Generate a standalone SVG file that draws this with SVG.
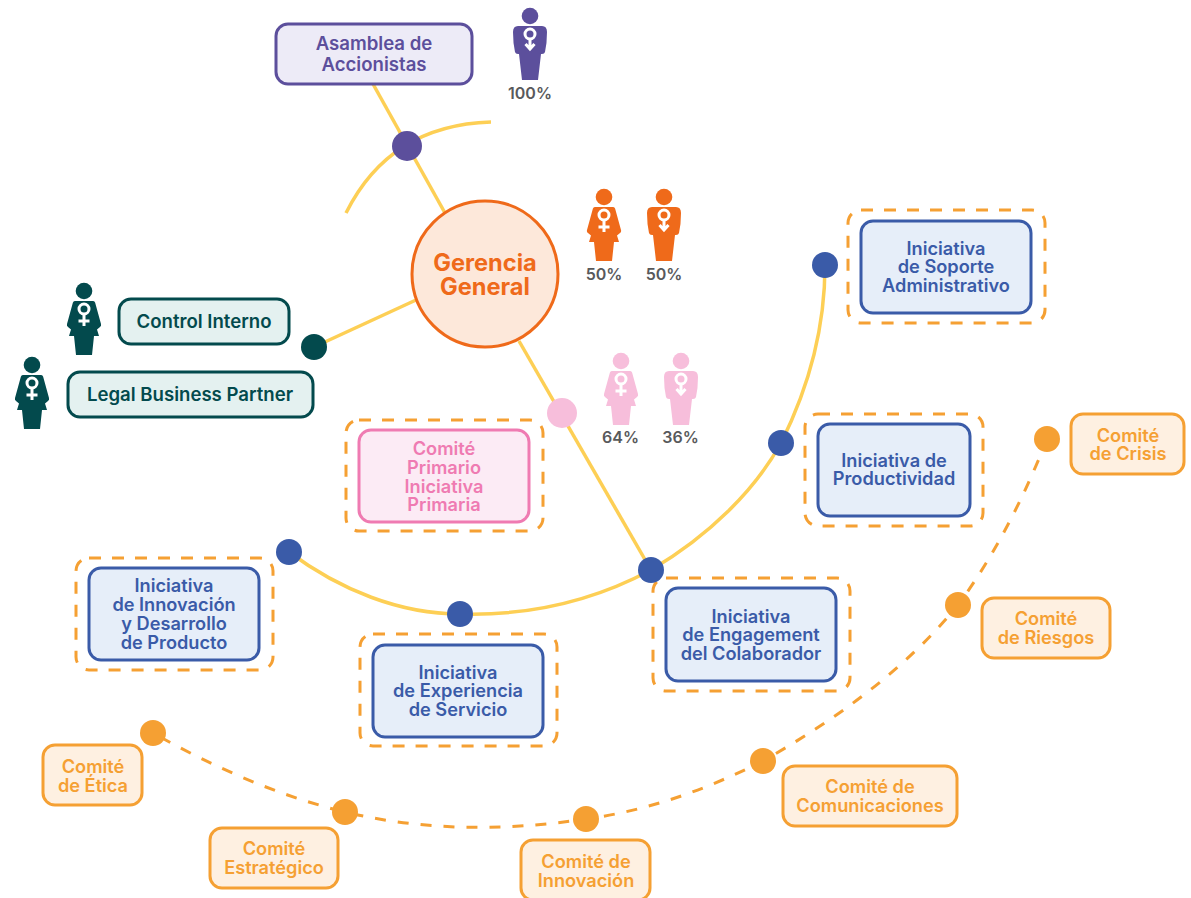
<svg xmlns="http://www.w3.org/2000/svg" width="1191" height="898" viewBox="0 0 1191 898">
<style>
text{font-family:Inter,"Liberation Sans",sans-serif;font-weight:600;text-anchor:middle}
.conn{fill:none;stroke:#fdcf55;stroke-width:3.500}
.dash{fill:none;stroke:#f5a033;stroke-width:3;stroke-dasharray:11 12}
.dbox{fill:none;stroke:#f5a033;stroke-width:3;stroke-dasharray:12 11}
.blue rect.b{fill:#e6eef9;stroke:#3a5ba8;stroke-width:3}
.blue text{fill:#3a5ba8;font-size:18.200px}
.org rect{fill:#fef0e1;stroke:#f5a033;stroke-width:3}
.org text{fill:#f5a033;font-size:18.200px}
.teal rect{fill:#e4f1f0;stroke:#034a4d;stroke-width:3}
.teal text{fill:#034a4d;font-size:18.600px}
.pct{fill:#58595b;font-size:16px}
.sym{fill:none;stroke:#fff;stroke-width:3}
</style>
<defs>
<g id="female">
<circle cx="0" cy="0" r="8.300"/>
<path d="M-9,10H9Q11,10 11.500,13L17,33Q17.500,35 16,36L13,38.500L15,45H10L8,64H-8L-10,45H-15L-13,38.500L-16,36Q-17.500,35 -17,33L-11.500,13Q-11,10 -9,10Z"/>
<g class="sym"><circle cx="0" cy="18" r="5"/><path d="M0,23.500V35M-5.500,30H5.500"/></g>
</g>
<g id="male">
<circle cx="0" cy="0" r="8.300"/>
<path d="M-12,10H12Q17,10 17,16Q17,27 15,36Q14.500,38 12,38H11L8,64H-8L-11,38H-12Q-14.500,38 -15,36Q-17,27 -17,16Q-17,10 -12,10Z"/>
<g class="sym"><circle cx="0" cy="18" r="5"/><path d="M0,23.500V33M-4.500,28L0,33L4.500,28"/></g>
</g>
</defs>
<g id="connectors">
<path class="conn" d="M373,84L445,213"/>
<path class="conn" d="M346,213Q390,125 491,122"/>
<path class="conn" d="M416,300L314,347"/>
<path class="conn" d="M519,341L651,570"/>
<path class="conn" d="M289,552C340,590 400,614 460,614C530,616 595,600 651,570C710,535 755,490 781,443C810,385 825,325 825,265"/>
<path class="dash" d="M1047,439C1025,495 995,555 958,605C905,670 835,720 763,761C705,790 650,810 586,819C500,832 420,830 345,812C275,795 210,765 153,733"/>
</g>
<g id="asamblea">
<rect x="276" y="24" width="196" height="60" rx="12" fill="#edebf7" stroke="#5c4f9c" stroke-width="3"/>
<text fill="#5c4f9c" font-size="18.600" x="374" y="50">Asamblea de</text>
<text fill="#5c4f9c" font-size="18.600" x="374" y="71">Accionistas</text>
</g>
<g id="fig-asamblea" fill="#5c4f9c"><use href="#male" x="530" y="16"/><text class="pct" x="530" y="99">100%</text></g>
<g id="gerencia">
<circle cx="485" cy="274" r="73" fill="#fde8da" stroke="#ef6a1a" stroke-width="3"/>
<text fill="#ef6a1a" font-size="23.600" style="font-weight:700" x="485" y="271">Gerencia</text>
<text fill="#ef6a1a" font-size="23.600" style="font-weight:700" x="485" y="295">General</text>
</g>
<g id="fig-gerencia" fill="#ef6a1a"><use href="#female" x="604" y="197"/><use href="#male" x="664" y="197"/><text class="pct" x="604" y="280">50%</text><text class="pct" x="664" y="280">50%</text></g>
<g id="fig-comite" fill="#f7bedb"><use href="#female" x="621" y="361"/><use href="#male" x="681" y="361"/><text class="pct" x="620.500" y="443">64%</text><text class="pct" x="680.500" y="443">36%</text></g>
<g id="control" class="teal"><rect x="119" y="299" width="170" height="45" rx="12"/><text x="204" y="328">Control Interno</text></g>
<g id="legal" class="teal"><rect x="68" y="372" width="245" height="45" rx="12"/><text x="190" y="401">Legal Business Partner</text></g>
<g id="fig-legal" fill="#034a4d"><use href="#female" x="84" y="291"/><use href="#female" x="32" y="365"/></g>
<g id="comite-primario">
<rect class="dbox" x="346" y="420" width="197" height="111" rx="13"/>
<rect x="359" y="430" width="170" height="92" rx="12" fill="#fcebf5" stroke="#ef7bb2" stroke-width="3"/>
<g fill="#ef7bb2" font-size="18.200"><text x="444" y="455">Comité</text><text x="444" y="474">Primario</text><text x="444" y="493">Iniciativa</text><text x="444" y="511">Primaria</text></g>
</g>
<g id="ini-soporte" class="blue"><rect class="dbox" x="848" y="210" width="197" height="113" rx="13"/><rect class="b" x="861" y="221" width="170" height="92" rx="12"/><text x="946" y="255">Iniciativa</text><text x="946" y="273">de Soporte</text><text x="946" y="292">Administrativo</text></g>
<g id="ini-productividad" class="blue"><rect class="dbox" x="805" y="414" width="178" height="112" rx="13"/><rect class="b" x="818" y="424" width="152" height="92" rx="12"/><text x="894" y="467">Iniciativa de</text><text x="894" y="485">Productividad</text></g>
<g id="ini-innovacion" class="blue"><rect class="dbox" x="76" y="558" width="197" height="112" rx="13"/><rect class="b" x="89" y="568" width="170" height="92" rx="12"/><text x="174" y="592">Iniciativa</text><text x="174" y="611">de Innovación</text><text x="174" y="630">y Desarrollo</text><text x="174" y="649">de Producto</text></g>
<g id="ini-experiencia" class="blue"><rect class="dbox" x="360" y="634" width="197" height="112" rx="13"/><rect class="b" x="373" y="645" width="170" height="92" rx="12"/><text x="458" y="679">Iniciativa</text><text x="458" y="697">de Experiencia</text><text x="458" y="716">de Servicio</text></g>
<g id="ini-engagement" class="blue"><rect class="dbox" x="653" y="578" width="197" height="113" rx="13"/><rect class="b" x="666" y="588" width="170" height="93" rx="12"/><text x="751" y="623">Iniciativa</text><text x="751" y="641">de Engagement</text><text x="751" y="660">del Colaborador</text></g>
<g id="com-crisis" class="org"><rect x="1071" y="414" width="113" height="60" rx="12"/><text x="1128" y="442">Comité</text><text x="1128" y="460">de Crisis</text></g>
<g id="com-riesgos" class="org"><rect x="982" y="598" width="128" height="60" rx="12"/><text x="1046" y="625">Comité</text><text x="1046" y="644">de Riesgos</text></g>
<g id="com-comunicaciones" class="org"><rect x="783" y="766" width="174" height="60" rx="12"/><text x="870" y="793">Comité de</text><text x="870" y="812">Comunicaciones</text></g>
<g id="com-innovacion" class="org"><rect x="521" y="840" width="129" height="60" rx="12"/><text x="586" y="868">Comité de</text><text x="586" y="887">Innovación</text></g>
<g id="com-estrategico" class="org"><rect x="210" y="828" width="128" height="60" rx="12"/><text x="274" y="855">Comité</text><text x="274" y="874">Estratégico</text></g>
<g id="com-etica" class="org"><rect x="43" y="745" width="99" height="60" rx="12"/><text x="93" y="773">Comité</text><text x="93" y="792">de Ética</text></g>
<g id="dots">
<circle cx="407" cy="146" r="15" fill="#5c4f9c"/>
<circle cx="314" cy="347" r="13" fill="#034a4d"/>
<circle cx="562" cy="413" r="15" fill="#f7bedb"/>
<g fill="#3a5ba8"><circle cx="825" cy="265" r="13"/><circle cx="781" cy="443" r="13"/><circle cx="651" cy="570" r="13"/><circle cx="460" cy="614" r="13"/><circle cx="289" cy="552" r="13"/></g>
<g fill="#f5a033"><circle cx="1047" cy="439" r="13"/><circle cx="958" cy="605" r="13"/><circle cx="763" cy="761" r="13"/><circle cx="586" cy="819" r="13"/><circle cx="345" cy="812" r="13"/><circle cx="153" cy="733" r="13"/></g>
</g>
</svg>
